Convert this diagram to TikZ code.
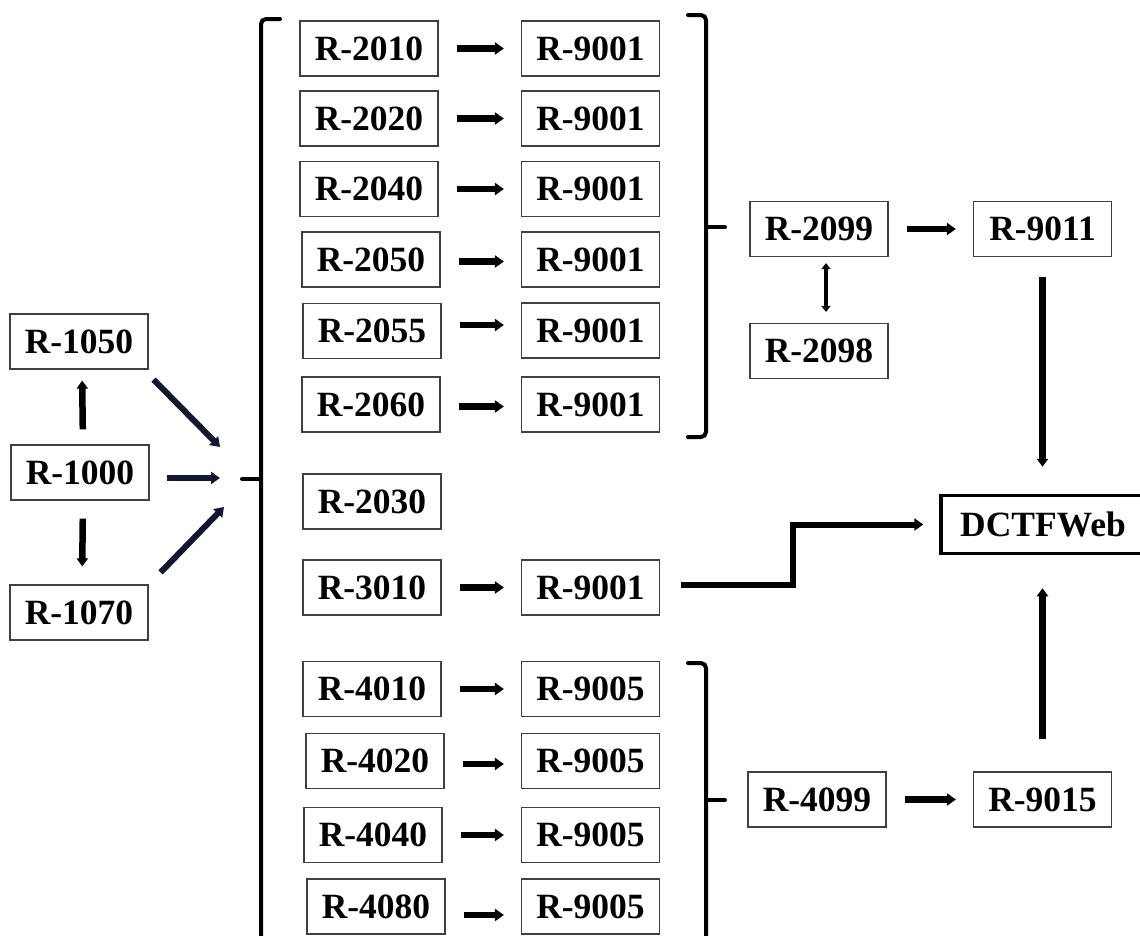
\documentclass[tikz,border=0pt]{standalone}
\usepackage{fontspec}
\setmainfont{Liberation Serif}
\usetikzlibrary{arrows.meta,calc}
\definecolor{navyblk}{RGB}{18,24,48}
\begin{document}
\begin{tikzpicture}[x=1pt,y=-1pt,
  box/.style={draw=black!75,line width=1.2pt,minimum width=138pt,minimum height=55pt,inner sep=0pt,
    font=\fontsize{35.5}{40}\selectfont\bfseries},
  arr/.style={line width=6.5pt,-{Triangle[length=9pt,width=12pt]}},
  varr/.style={line width=6.5pt,-{Triangle[length=8pt,width=11pt]}},
  darr/.style={line width=4pt,{Triangle[length=6pt,width=9pt]}-{Triangle[length=6pt,width=9pt]}},
  narr/.style={line width=6pt,draw=navyblk,-{Triangle[length=9pt,width=12pt]}},
  brk/.style={line width=4pt,rounded corners=5pt,line cap=round},
  hop/.style={shorten <=18pt,shorten >=17pt}]
\useasboundingbox (0,0) rectangle (1140,935);
\clip (0,0) rectangle (1140,935);

% left group
\node[box] (a1050) at (79,341.5) {R-1050};
\node[box] (a1000) at (80,472.5) {R-1000};
\node[box] (a1070) at (79,612.5) {R-1070};

% column 1
\node[box] (b2010) at (369,48.5) {R-2010};
\node[box] (b2020) at (369,118.5) {R-2020};
\node[box] (b2040) at (369,189) {R-2040};
\node[box] (b2050) at (371,259.5) {R-2050};
\node[box] (b2055) at (372,331) {R-2055};
\node[box] (b2060) at (371,404.5) {R-2060};
\node[box] (b2030) at (372,501.5) {R-2030};
\node[box] (b3010) at (372,587.5) {R-3010};
\node[box] (b4010) at (372,689) {R-4010};
\node[box] (b4020) at (375,761) {R-4020};
\node[box] (b4040) at (373,835) {R-4040};
\node[box] (b4080) at (376,906.5) {R-4080};

% column 2
\node[box] (c2010) at (590.5,48.5) {R-9001};
\node[box] (c2020) at (590.5,118.5) {R-9001};
\node[box] (c2040) at (590.5,189) {R-9001};
\node[box] (c2050) at (590.5,259.5) {R-9001};
\node[box] (c2055) at (590.5,330.5) {R-9001};
\node[box] (c2060) at (590.5,404.5) {R-9001};
\node[box] (c3010) at (590.5,587.5) {R-9001};
\node[box] (c4010) at (590.5,689) {R-9005};
\node[box] (c4020) at (590.5,761) {R-9005};
\node[box] (c4040) at (590.5,835) {R-9005};
\node[box] (c4080) at (590.5,906.5) {R-9005};

% right part
\node[box] (d2099) at (819,229) {R-2099};
\node[box] (d9011) at (1042.5,229) {R-9011};
\node[box] (d2098) at (819,351) {R-2098};
\node[box] (d4099) at (817,799.5) {R-4099};
\node[box] (d9015) at (1042.5,799.5) {R-9015};
\node[box,draw=black,line width=3.5pt,minimum width=204pt,minimum height=58pt] (web) at (1043,524.5) {DCTFWeb};

% brackets
\draw[brk] (280,19) -- (261,19) -- (261,960);
\draw[brk,rounded corners=3pt] (242,479) -- (261,479);
\coordinate (tickL) at (236,479);
\draw[brk] (688,15) -- (706,15) -- (706,437) -- (688,437);
\draw[brk,rounded corners=3pt] (706,227) -- (725,227);
\draw[brk] (688,663) -- (706,663) -- (706,960);
\draw[brk,rounded corners=3pt] (706,800) -- (725,800);

% left arrows
\draw[varr,shorten <=15pt,shorten >=11pt] ([xshift=3pt]a1000.north) -- ([xshift=3pt]a1050.south);
\draw[varr,shorten <=18pt,shorten >=18pt] ([xshift=3pt]a1000.south) -- ([xshift=3pt]a1070.north);
\draw[narr] ($(a1050.south east)+(5,10)$) -- ($(tickL)+(-16,-32)$);
\draw[narr] ($(a1000.east)+(17,5.5)$) -- ($(tickL)+(-16,-1)$);
\draw[narr] ($(a1070.north east)+(12,-12)$) -- ($(tickL)+(-12,28)$);

% row arrows
\draw[arr,hop] (b2010.east) -- (c2010.west);
\draw[arr,hop] (b2020.east) -- (c2020.west);
\draw[arr,hop] (b2040.east) -- (c2040.west);
\draw[arr,hop] ([yshift=-2pt]b2050.east) -- ([yshift=-2pt]c2050.west);
\draw[arr,hop] ([yshift=6pt]b2055.east) -- ([yshift=5.5pt]c2055.west);
\draw[arr,hop] ([yshift=-2pt]b2060.east) -- ([yshift=-2pt]c2060.west);
\draw[arr,hop] (b3010.east) -- (c3010.west);
\draw[arr,hop] (b4010.east) -- (c4010.west);
\draw[arr,hop] ([yshift=-3pt]b4020.east) -- ([yshift=-3pt]c4020.west);
\draw[arr,hop] (b4040.east) -- (c4040.west);
\draw[arr,hop] ([yshift=-8.5pt]b4080.east) -- ([yshift=-8.5pt]c4080.west);

\draw[arr,hop] (d2099.east) -- (d9011.west);
\draw[arr,hop] (d4099.east) -- (d9015.west);
\draw[darr,shorten <=6pt,shorten >=11pt] ([xshift=7pt]d2099.south) -- ([xshift=7pt]d2098.north);

% to DCTFWeb
\draw[varr,shorten <=20pt,shorten >=27pt] (d9011.south) -- (d9011.south |- web.north);
\draw[varr,shorten <=32pt,shorten >=33pt] (d9015.north) -- (d9015.north |- web.south);
\coordinate (bend) at (793,585);
\draw[line width=6pt,line join=miter,-{Triangle[length=9pt,width=12pt]},shorten >=16pt]
  ([xshift=21pt,yshift=2.5pt]c3010.east) -- (bend) |- (web.west);
\end{tikzpicture}
\end{document}
